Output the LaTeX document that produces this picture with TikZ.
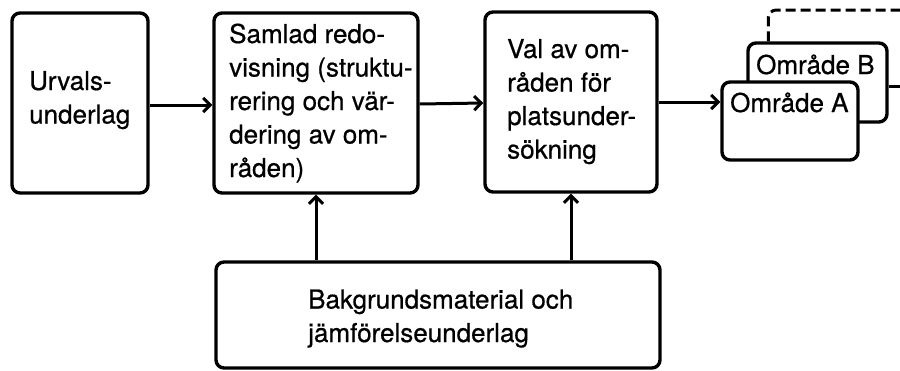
\documentclass[tikz,border=0pt]{standalone}
\usepackage{fontspec}
\setmainfont[FakeBold=0.6]{TeX Gyre Heros}
\usetikzlibrary{arrows.meta}
\begin{document}
\begin{tikzpicture}[x=1pt,y=1pt,
  box/.style={draw, line width=3.4pt, rounded corners=8pt, fill=white, inner sep=0pt},
  lbl/.style={anchor=base west, align=left, inner sep=0pt,
              font=\fontsize{26}{33.5}\selectfont},
  flow/.style={line width=3pt,
               -{Straight Barb[length=7pt,width=14pt,line width=3pt]}},
  link/.style={line width=3pt, rounded corners=8pt}]
\useasboundingbox (0,0) rectangle (900,-370);

% main boxes
\node[box, minimum width=136pt, minimum height=180pt] (u) at (80,-103) {};
\node[box, minimum width=204pt, minimum height=180pt] (s) at (316,-103) {};
\node[box, minimum width=172pt, minimum height=180pt] (v) at (571,-102) {};
\node[box, minimum width=444pt, minimum height=106pt] (b) at (438,-315) {};

% stacked area boxes
\coordinate (dashend) at (900,-10);
\coordinate (bend) at (900,-86);
\node[box, minimum width=139pt, minimum height=79pt] (ob) at (817.5,-82.5) {};
\draw[link, dash pattern=on 10pt off 5pt]
  ([xshift=22pt]ob.north west) |- (dashend);
\draw[link] (ob.east |- bend) -- (bend);
\node[box, minimum width=136pt, minimum height=78pt] (oa) at (790,-121) {};

% labels (anchored at the baseline of their last line)
\node[lbl] (tu) at (29,-123.5) {Urvals-\\underlag};
\node[lbl] (ts) at (229,-177) {Samlad redo-\\visning (struktu-\\rering och vär-\\dering av om-\\råden)};
\node[lbl] (tv) at (507,-158.5) {Val av om-\\råden för\\platsunder-\\sökning};
\node[lbl] (tb) at (308,-342) {Bakgrundsmaterial och\\jämförelseunderlag};
\node[lbl] (tob) at (756,-74) {Område B};
\node[lbl] (toa) at (730,-112) {Område A};

% connectors
\draw[flow] ([yshift=-2pt]u.east) -- ([yshift=-2pt]s.west);
\draw[flow] ([yshift=-1pt]s.east) -- ([yshift=-1pt]v.west);
\draw[flow] (v.east) -- (v.east -| oa.west);
\draw[flow] (b.north -| s.south) -- (s.south);
\draw[flow] (b.north -| v.south) -- (v.south);
\end{tikzpicture}
\end{document}
